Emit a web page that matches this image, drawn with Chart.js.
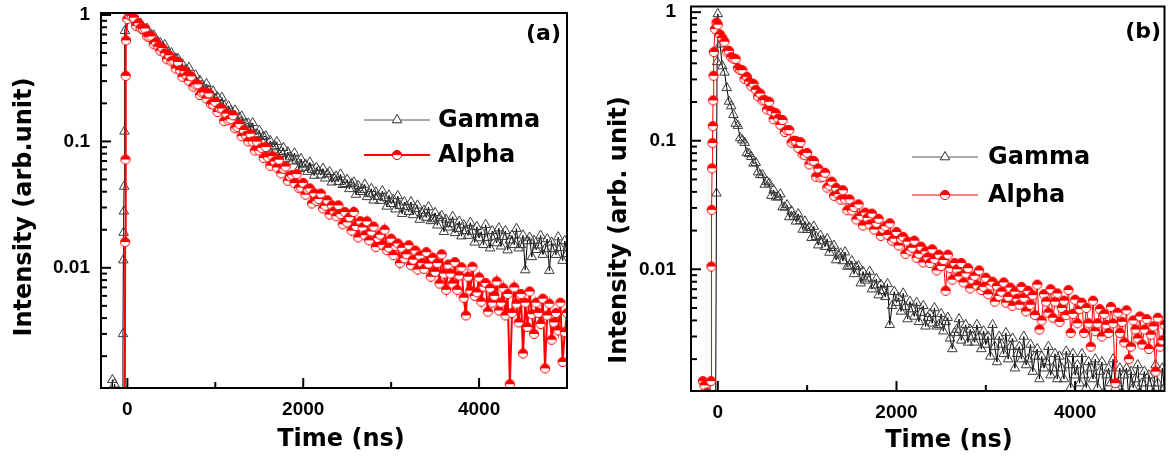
<!DOCTYPE html>
<html>
<head>
<meta charset="utf-8">
<script src="https://cdn.jsdelivr.net/npm/chart.js@4.4.0/dist/chart.umd.min.js"></script>
<style>
  body { margin: 0; background: #fff; }
  canvas { position: absolute; top: 0; }
  #panelA { left: 0; }
  #panelB { left: 585px; }
</style>
</head>
<body>
<canvas id="panelA" width="585" height="466"></canvas>
<canvas id="panelB" width="586" height="466"></canvas>
<script>
// ejes
var xMin = -300, xMax = 5000;
var xTickValues = [0, 2000, 4000];
var xTickLabels = ['0', '2000', '4000'];
var xMinorTicks = [1000, 3000];
var yTickValues = [1, 0.1, 0.01];
var yTickLabels = ['1', '0.1', '0.01'];
var yMinorTicks = [0.9, 0.8, 0.7, 0.6, 0.5, 0.4, 0.3, 0.2, 0.09, 0.08, 0.07, 0.06, 0.05, 0.04, 0.03, 0.02,
  0.009, 0.008, 0.007, 0.006, 0.005, 0.004, 0.003, 0.002];

// tiempos del decaimiento (ns)
var decayTime = [25, 50, 75, 100, 125, 150, 175, 200, 225, 250, 275, 300, 325, 350, 375, 400, 425, 450, 475, 500,
  525, 550, 575, 600, 625, 650, 675, 700, 725, 750, 775, 800, 825, 850, 875, 900, 925, 950, 975, 1000,
  1025, 1050, 1075, 1100, 1125, 1150, 1175, 1200, 1225, 1250, 1275, 1300, 1325, 1350, 1375, 1400, 1425, 1450, 1475, 1500,
  1525, 1550, 1575, 1600, 1625, 1650, 1675, 1700, 1725, 1750, 1775, 1800, 1825, 1850, 1875, 1900, 1925, 1950, 1975, 2000,
  2025, 2050, 2075, 2100, 2125, 2150, 2175, 2200, 2225, 2250, 2275, 2300, 2325, 2350, 2375, 2400, 2425, 2450, 2475, 2500,
  2525, 2550, 2575, 2600, 2625, 2650, 2675, 2700, 2725, 2750, 2775, 2800, 2825, 2850, 2875, 2900, 2925, 2950, 2975, 3000,
  3025, 3050, 3075, 3100, 3125, 3150, 3175, 3200, 3225, 3250, 3275, 3300, 3325, 3350, 3375, 3400, 3425, 3450, 3475, 3500,
  3525, 3550, 3575, 3600, 3625, 3650, 3675, 3700, 3725, 3750, 3775, 3800, 3825, 3850, 3875, 3900, 3925, 3950, 3975, 4000,
  4025, 4050, 4075, 4100, 4125, 4150, 4175, 4200, 4225, 4250, 4275, 4300, 4325, 4350, 4375, 4400, 4425, 4450, 4475, 4500,
  4525, 4550, 4575, 4600, 4625, 4650, 4675, 4700, 4725, 4750, 4775, 4800, 4825, 4850, 4875, 4900, 4925, 4950, 4975, 5000];

// panel (a)
var gammaARiseTime = [-300, -250, -200, -170, -160, -145, -135, -90, -55, -50, -46, -43, -40, -37, -33, -28, 0];
var gammaARise = [0.0005, 0.0006, 0.0005, 0.0013, 0.0005, 0.0012, 0.0005, 0.0006, 0.0005, 0.003, 0.0115, 0.019, 0.028, 0.044, 0.12, 0.75, 0.95];
var gammaADecay = [1.0, 0.924, 0.995, 0.891, 0.811, 0.859, 0.806, 0.746, 0.780, 0.681, 0.694, 0.691, 0.598, 0.608, 0.601, 0.550, 0.580, 0.502, 0.493, 0.501,
  0.435, 0.454, 0.451, 0.372, 0.409, 0.365, 0.367, 0.383, 0.316, 0.320, 0.334, 0.278, 0.303, 0.277, 0.257, 0.285, 0.253, 0.220, 0.249, 0.217,
  0.224, 0.192, 0.222, 0.191, 0.168, 0.190, 0.174, 0.159, 0.176, 0.146, 0.154, 0.158, 0.129, 0.137, 0.139, 0.125, 0.140, 0.114, 0.114, 0.122,
  0.102, 0.109, 0.110, 0.0881, 0.101, 0.0901, 0.092, 0.0992, 0.0796, 0.0828, 0.0891, 0.0727, 0.0821, 0.0751, 0.0695, 0.0807, 0.0709, 0.0608, 0.0726, 0.0622,
  0.0658, 0.0577, 0.0682, 0.0598, 0.0537, 0.0620, 0.0582, 0.0541, 0.0610, 0.0511, 0.0551, 0.0575, 0.0475, 0.0513, 0.0529, 0.0480, 0.0549, 0.0454, 0.0462, 0.0498,
  0.0421, 0.0463, 0.0475, 0.0380, 0.0447, 0.0399, 0.0415, 0.0456, 0.0364, 0.0384, 0.0422, 0.0342, 0.0397, 0.0365, 0.0340, 0.0405, 0.0357, 0.0306, 0.0375, 0.0321,
  0.0347, 0.0291, 0.0370, 0.0310, 0.0268, 0.0331, 0.0305, 0.0278, 0.0332, 0.0262, 0.0292, 0.0312, 0.0241, 0.0270, 0.0284, 0.0250, 0.0303, 0.0235, 0.0243, 0.0272,
  0.0217, 0.0248, 0.0258, 0.0193, 0.0241, 0.0209, 0.0222, 0.0254, 0.0189, 0.0204, 0.0233, 0.0178, 0.0218, 0.0196, 0.0180, 0.0228, 0.0194, 0.0159, 0.0211, 0.0172,
  0.0193, 0.0152, 0.0219, 0.0173, 0.0143, 0.0196, 0.0177, 0.0157, 0.0206, 0.0148, 0.0176, 0.0196, 0.0138, 0.0165, 0.0180, 0.0152, 0.0204, 0.0143, 0.0152, 0.0181,
  0.0096, 0.0163, 0.0174, 0.0122, 0.0164, 0.0139, 0.0151, 0.0180, 0.0127, 0.0141, 0.0169, 0.0095, 0.0159, 0.0141, 0.0127, 0.0175, 0.0144, 0.0114, 0.0163, 0.0129];

var alphaARiseTime = [-300, -200, -100, -30, -25, -22, -19, -16, 0];
var alphaARise = [0.0005, 0.0005, 0.0005, 0.0005, 0.016, 0.072, 0.33, 0.63, 0.93];
var alphaADecay = [0.99, 0.979, 0.952, 0.821, 0.863, 0.788, 0.775, 0.782, 0.677, 0.670, 0.677, 0.587, 0.609, 0.561, 0.522, 0.548, 0.498, 0.447, 0.480, 0.431,
  0.436, 0.377, 0.425, 0.366, 0.324, 0.360, 0.331, 0.302, 0.327, 0.271, 0.281, 0.283, 0.233, 0.243, 0.244, 0.218, 0.240, 0.198, 0.196, 0.205,
  0.171, 0.183, 0.182, 0.145, 0.166, 0.147, 0.150, 0.161, 0.127, 0.130, 0.137, 0.110, 0.123, 0.111, 0.100, 0.115, 0.100, 0.0847, 0.0995, 0.0847,
  0.0889, 0.0739, 0.0904, 0.0749, 0.0642, 0.0765, 0.0695, 0.0622, 0.0716, 0.0558, 0.0608, 0.0633, 0.0488, 0.053, 0.0542, 0.0468, 0.0551, 0.0427, 0.0432, 0.0470,
  0.0379, 0.0418, 0.0425, 0.0323, 0.0389, 0.0338, 0.035, 0.0387, 0.0295, 0.0310, 0.0342, 0.0264, 0.0312, 0.0280, 0.0256, 0.0312, 0.0266, 0.0221, 0.0276, 0.0229,
  0.0252, 0.0197, 0.0277, 0.0214, 0.0174, 0.0234, 0.0209, 0.0181, 0.0233, 0.0165, 0.0194, 0.0212, 0.0146, 0.0172, 0.0183, 0.0152, 0.0200, 0.0138, 0.0144, 0.0170,
  0.0126, 0.0149, 0.0156, 0.0109, 0.0144, 0.0119, 0.0128, 0.0151, 0.0105, 0.0116, 0.0137, 0.0097, 0.0125, 0.0109, 0.0098, 0.0133, 0.0108, 0.0085, 0.0120, 0.0093,
  0.0109, 0.0075, 0.0128, 0.0090, 0.0067, 0.0106, 0.0090, 0.0075, 0.0111, 0.0067, 0.0087, 0.0101, 0.0058, 0.0042, 0.0085, 0.0066, 0.0102, 0.0060, 0.0064, 0.0084,
  0.0054, 0.0071, 0.0076, 0.0045, 0.0069, 0.0053, 0.0060, 0.0078, 0.0046, 0.0053, 0.0069, 0.0042, 0.0062, 0.0012, 0.0044, 0.0070, 0.0052, 0.0037, 0.0062, 0.0021,
  0.0053, 0.0034, 0.0065, 0.0043, 0.0030, 0.0053, 0.0044, 0.0036, 0.0057, 0.0016, 0.0042, 0.0052, 0.0027, 0.0037, 0.0044, 0.0032, 0.0053, 0.0018, 0.0031, 0.0044];

// panel (b)
var gammaBRiseTime = [-300, -200, -100, -25, -15, -8, 0];
var gammaBRise = [0.0004, 0.0005, 0.0004, 0.0005, 0.039, 0.41, 0.97];
var gammaBDecay = [0.562, 0.381, 0.340, 0.258, 0.202, 0.186, 0.159, 0.136, 0.131, 0.105, 0.101, 0.0966, 0.0804, 0.079, 0.0750, 0.0666, 0.0675, 0.0570, 0.0542, 0.0542,
  0.0457, 0.0481, 0.0466, 0.0374, 0.0414, 0.0363, 0.0365, 0.0384, 0.0305, 0.0303, 0.0316, 0.0255, 0.0283, 0.0257, 0.0236, 0.0269, 0.0238, 0.0204, 0.0236, 0.0203,
  0.0211, 0.0176, 0.0215, 0.0179, 0.0154, 0.0183, 0.0166, 0.0150, 0.0172, 0.0135, 0.0147, 0.0153, 0.0118, 0.0129, 0.0133, 0.0116, 0.0136, 0.0105, 0.0107, 0.0116,
  0.0092, 0.0104, 0.0106, 0.0078, 0.0096, 0.0082, 0.0085, 0.0096, 0.0070, 0.0075, 0.0084, 0.0063, 0.0076, 0.0068, 0.0061, 0.0077, 0.0037, 0.0052, 0.0067, 0.0055,
  0.0060, 0.0047, 0.0065, 0.0051, 0.0041, 0.0056, 0.0049, 0.0043, 0.0055, 0.0039, 0.0046, 0.0052, 0.0036, 0.0042, 0.0045, 0.0038, 0.0050, 0.0036, 0.0037, 0.0045,
  0.0033, 0.0039, 0.0042, 0.0029, 0.0024, 0.0032, 0.0034, 0.0041, 0.0028, 0.0032, 0.0037, 0.0027, 0.0034, 0.0030, 0.0027, 0.0037, 0.0030, 0.0024, 0.0033, 0.0026,
  0.0030, 0.0021, 0.0037, 0.0025, 0.0019, 0.0030, 0.0026, 0.0022, 0.0032, 0.0020, 0.0025, 0.0029, 0.0017, 0.0022, 0.0025, 0.0020, 0.0030, 0.0018, 0.0020, 0.0026,
  0.0016, 0.0021, 0.0024, 0.0014, 0.0021, 0.0017, 0.0019, 0.0025, 0.0015, 0.0017, 0.0022, 0.0014, 0.0021, 0.0017, 0.0014, 0.0023, 0.0018, 0.0012, 0.0022, 0.0015,
  0.0018, 0.0013, 0.0022, 0.0015, 0.0012, 0.0019, 0.0017, 0.0014, 0.0020, 0.0012, 0.0016, 0.0019, 0.0011, 0.0015, 0.0017, 0.0013, 0.0020, 0.0012, 0.0013, 0.0017,
  0.0011, 0.0015, 0.0017, 0.0010, 0.0016, 0.0012, 0.0014, 0.0018, 0.0011, 0.0013, 0.0016, 0.0010, 0.0015, 0.0013, 0.0011, 0.0018, 0.0013, 0.0010, 0.0017, 0.0012];

var alphaBRiseTime = [-300, -250, -200, -167, -150, -120, -100, -76, -72, -68, -64, -60, -56, -52, -48, -44, -30, -15, 0];
var alphaBRise = [0.0008, 0.0009, 0.001, 0.00135, 0.00125, 0.0011, 0.001, 0.00135, 0.0105, 0.029, 0.061, 0.096, 0.13, 0.206, 0.32, 0.49, 0.74, 0.83, 0.80];
var alphaBDecay = [0.671, 0.629, 0.590, 0.494, 0.500, 0.448, 0.435, 0.433, 0.367, 0.355, 0.354, 0.303, 0.314, 0.288, 0.266, 0.277, 0.249, 0.221, 0.233, 0.206,
  0.207, 0.175, 0.201, 0.170, 0.147, 0.164, 0.149, 0.133, 0.145, 0.117, 0.121, 0.121, 0.0967, 0.100, 0.0995, 0.0879, 0.0976, 0.0784, 0.0772, 0.0804,
  0.0654, 0.0700, 0.0695, 0.0525, 0.0607, 0.0518, 0.0525, 0.0564, 0.0432, 0.0447, 0.0481, 0.0373, 0.0430, 0.0384, 0.0348, 0.0412, 0.0350, 0.0288, 0.0350, 0.0287,
  0.0305, 0.0244, 0.0320, 0.0260, 0.0219, 0.0276, 0.0251, 0.0223, 0.0271, 0.0204, 0.0230, 0.0247, 0.0182, 0.0206, 0.0216, 0.0185, 0.0228, 0.0167, 0.0173, 0.0195,
  0.0153, 0.0173, 0.0179, 0.0132, 0.0164, 0.0140, 0.0147, 0.0167, 0.0123, 0.0132, 0.0150, 0.0113, 0.0138, 0.0124, 0.0112, 0.0143, 0.0120, 0.0098, 0.0130, 0.0106,
  0.0118, 0.0068, 0.0130, 0.0102, 0.0083, 0.0112, 0.0100, 0.0088, 0.0112, 0.0079, 0.0093, 0.0102, 0.0071, 0.0083, 0.0089, 0.0075, 0.0098, 0.0069, 0.0073, 0.0086,
  0.0064, 0.0075, 0.0080, 0.0056, 0.0074, 0.0062, 0.0067, 0.0079, 0.0055, 0.0061, 0.0072, 0.0052, 0.0067, 0.0059, 0.0053, 0.0073, 0.0060, 0.0047, 0.0068, 0.0053,
  0.0063, 0.0044, 0.0076, 0.0034, 0.0040, 0.0064, 0.0056, 0.0046, 0.0070, 0.0042, 0.0056, 0.0065, 0.0039, 0.0050, 0.0057, 0.0044, 0.0069, 0.0032, 0.0045, 0.0058,
  0.0038, 0.0049, 0.0055, 0.0032, 0.0050, 0.0038, 0.0025, 0.0057, 0.0033, 0.0038, 0.0049, 0.0030, 0.0045, 0.0037, 0.0032, 0.0051, 0.0038, 0.0013, 0.0046, 0.0032,
  0.0039, 0.0027, 0.0048, 0.0020, 0.0025, 0.0040, 0.0034, 0.0029, 0.0043, 0.0026, 0.0034, 0.0041, 0.0024, 0.0031, 0.0036, 0.0016, 0.0042, 0.0025, 0.0028, 0.0037];

function toPoints(times, values) {
  return times.map(function (t, i) { return { x: t, y: values[i] }; });
}

// marcador circulo medio relleno
function halfDisc(color) {
  var c = document.createElement('canvas');
  c.width = 12; c.height = 12;
  var g = c.getContext('2d');
  g.beginPath(); g.arc(6, 6, 4.6, 0, 2 * Math.PI); g.fillStyle = '#fff'; g.fill();
  g.beginPath(); g.arc(6, 6, 4.6, Math.PI, 2 * Math.PI); g.closePath(); g.fillStyle = color; g.fill();
  g.beginPath(); g.arc(6, 6, 4.6, 0, 2 * Math.PI); g.strokeStyle = color; g.lineWidth = 1; g.stroke();
  return c;
}
var alphaMarker = halfDisc('#ff0000');

function tickLine(ctx, x0, y0, x1, y1) {
  ctx.beginPath(); ctx.moveTo(x0, y0); ctx.lineTo(x1, y1); ctx.stroke();
}

// marco, ticks hacia dentro, titulos, leyenda y etiqueta del panel
var marcoPlugin = {
  id: 'marco',
  afterDatasetsDraw: function (chart, args, o) {
    var ctx = chart.ctx, a = chart.chartArea;
    var xs = chart.scales.x, ys = chart.scales.y;
    ctx.save();
    ctx.strokeStyle = '#000';
    ctx.lineWidth = 2;
    ctx.strokeRect(a.left, a.top, a.right - a.left, a.bottom - a.top);
    yTickValues.forEach(function (v) { var y = ys.getPixelForValue(v); tickLine(ctx, a.left, y, a.left + 10, y); });
    yMinorTicks.forEach(function (v) { var y = ys.getPixelForValue(v); tickLine(ctx, a.left, y, a.left + 6, y); });
    xTickValues.forEach(function (v) { var x = xs.getPixelForValue(v); tickLine(ctx, x, a.bottom, x, a.bottom - 10); });
    xMinorTicks.forEach(function (v) { var x = xs.getPixelForValue(v); tickLine(ctx, x, a.bottom, x, a.bottom - 6); });

    ctx.fillStyle = '#000';
    ctx.font = 'bold 24px "DejaVu Sans"';
    ctx.textAlign = 'center';
    ctx.textBaseline = 'middle';
    ctx.fillText(o.xTitle, o.xTitleX, o.xTitleY);
    ctx.save();
    ctx.translate(o.yTitleX, o.yTitleY);
    ctx.rotate(-Math.PI / 2);
    ctx.fillText(o.yTitle, 0, 0);
    ctx.restore();

    var ds = chart.data.datasets;
    var gamma = ds[1], alpha = ds[0];
    var cx = (o.lineX0 + o.lineX1) / 2;
    ctx.lineWidth = 1;
    ctx.strokeStyle = '#555';
    tickLine(ctx, o.lineX0, o.gammaY, o.lineX1, o.gammaY);
    ctx.beginPath();
    ctx.moveTo(cx, o.gammaY - 5.5);
    ctx.lineTo(cx + 4.8, o.gammaY + 2.8);
    ctx.lineTo(cx - 4.8, o.gammaY + 2.8);
    ctx.closePath();
    ctx.fillStyle = '#fff'; ctx.fill();
    ctx.strokeStyle = '#333'; ctx.stroke();
    ctx.strokeStyle = alpha.borderColor;
    ctx.lineWidth = alpha.borderWidth;
    tickLine(ctx, o.lineX0, o.alphaY, o.lineX1, o.alphaY);
    ctx.drawImage(alphaMarker, cx - 6, o.alphaY - 6);

    ctx.fillStyle = '#000';
    ctx.textAlign = 'left';
    ctx.fillText(gamma.label, o.textX, o.gammaY + 1);
    ctx.fillText(alpha.label, o.textX, o.alphaY + 1);
    ctx.font = 'bold 22px "DejaVu Sans"';
    ctx.textAlign = 'right';
    ctx.fillText(o.panel, o.panelX, o.panelY);
    ctx.restore();
  }
};

function makeChart(id, cfg) {
  return new Chart(document.getElementById(id), {
    type: 'scatter',
    data: {
      datasets: [{
        label: 'Alpha',
        data: cfg.alpha,
        showLine: true,
        borderColor: '#ff0000',
        borderWidth: cfg.alphaWidth,
        pointStyle: alphaMarker,
        pointRadius: 5,
        pointHoverRadius: 5,
        clip: 0
      }, {
        label: 'Gamma',
        data: cfg.gamma,
        showLine: true,
        borderColor: '#000',
        borderWidth: 1,
        pointStyle: 'triangle',
        pointRadius: 5.5,
        pointHoverRadius: 5.5,
        pointBorderColor: '#3a3a3a',
        pointBackgroundColor: 'rgba(255,255,255,0)',
        pointBorderWidth: 1,
        clip: 0
      }]
    },
    options: {
      responsive: false,
      animation: false,
      events: [],
      layout: { padding: cfg.padding },
      plugins: {
        legend: { display: false },
        tooltip: { enabled: false },
        marco: cfg.marco
      },
      scales: {
        x: {
          type: 'linear',
          min: xMin,
          max: xMax,
          grid: { display: false, drawTicks: false },
          border: { display: false },
          ticks: {
            autoSkip: false,
            padding: 10,
            color: '#000',
            font: { family: 'Liberation Sans', weight: 'bold', size: 19 },
            callback: function (v) { return xTickLabels[xTickValues.indexOf(v)]; }
          },
          afterBuildTicks: function (s) { s.ticks = xTickValues.map(function (v) { return { value: v }; }); },
          afterFit: function (s) { s.height = cfg.xHeight; s.paddingLeft = 0; s.paddingRight = 0; }
        },
        y: {
          type: 'logarithmic',
          min: cfg.yMin,
          max: cfg.yMax,
          grid: { display: false, drawTicks: false },
          border: { display: false },
          ticks: {
            autoSkip: false,
            padding: cfg.yTickPad,
            color: '#000',
            font: { family: 'Liberation Sans', weight: 'bold', size: 19 },
            callback: function (v) { var i = yTickValues.indexOf(v); return i < 0 ? '' : yTickLabels[i]; }
          },
          afterBuildTicks: function (s) { s.ticks = yTickValues.map(function (v) { return { value: v }; }); },
          afterFit: function (s) { s.width = cfg.yWidth; s.paddingTop = 0; s.paddingBottom = 0; }
        }
      }
    },
    plugins: [marcoPlugin]
  });
}

var chartA = makeChart('panelA', {
  gamma: toPoints(gammaARiseTime.concat(decayTime), gammaARise.concat(gammaADecay)),
  alpha: toPoints(alphaARiseTime.concat(decayTime), alphaARise.concat(alphaADecay)),
  alphaWidth: 2,
  padding: { left: 0, top: 13, right: 18, bottom: 0 },
  yMin: 0.00112, yMax: 1.037,
  yWidth: 101, xHeight: 78,
  yTickPad: 11,
  marco: {
    xTitle: 'Time (ns)', xTitleX: 341, xTitleY: 440,
    yTitle: 'Intensity (arb.unit)', yTitleX: 25, yTitleY: 207,
    lineX0: 364, lineX1: 430, gammaY: 120, alphaY: 155, textX: 438,
    panel: '(a)', panelX: 561, panelY: 34
  }
});

var chartB = makeChart('panelB', {
  gamma: toPoints(gammaBRiseTime.concat(decayTime), gammaBRise.concat(gammaBDecay)),
  alpha: toPoints(alphaBRiseTime.concat(decayTime), alphaBRise.concat(alphaBDecay)),
  alphaWidth: 1,
  padding: { left: 0, top: 6, right: 4, bottom: 0 },
  yMin: 0.00113, yMax: 1.107,
  yWidth: 106, xHeight: 75,
  yTickPad: 15,
  marco: {
    xTitle: 'Time (ns)', xTitleX: 364, xTitleY: 441,
    yTitle: 'Intensity (arb. unit)', yTitleX: 35, yTitleY: 230,
    lineX0: 327, lineX1: 393, gammaY: 157, alphaY: 195, textX: 403,
    panel: '(b)', panelX: 576, panelY: 32
  }
});
</script>
</body>
</html>
